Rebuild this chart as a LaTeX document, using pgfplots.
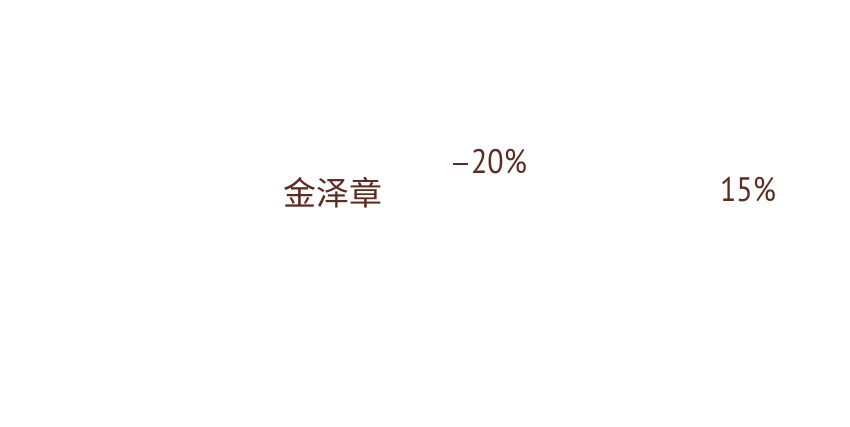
\documentclass[border=0pt]{standalone}
\usepackage{fontspec}
\setmainfont{PT Sans}[FakeStretch=0.88]
\newfontfamily\cjk{Noto Sans CJK SC}
\usepackage{pgfplots}
\pgfplotsset{compat=1.18}
\definecolor{txtbrown}{HTML}{5C2B22}
\newcommand{\minus}{\raisebox{8.5pt}{\rule{15pt}{2pt}}\hspace{3pt}}
\begin{document}
\begin{tikzpicture}
\path (0,0) rectangle (850pt,426pt);
\begin{axis}[
    at={(0,0)}, anchor=south west,
    scale only axis,
    width=850pt, height=426pt,
    xmin=0, xmax=850, ymin=0, ymax=426,
    y dir=reverse,
    hide axis,
    clip=false,
]
% category label and value labels, in picture pixels
\addplot[only marks, mark=none,
    nodes near coords,
    point meta=explicit symbolic,
    every node near coord/.style={anchor=center, inner sep=0pt,
        text=txtbrown, font=\fontsize{34}{38}\selectfont},
] coordinates {
    (333,193) [{\cjk\fontsize{33}{36}\selectfont 金泽章}]
    (490,162) [{\minus 20\%}]
    (748,190) [{15\%}]
};
\end{axis}
\end{tikzpicture}
\end{document}
